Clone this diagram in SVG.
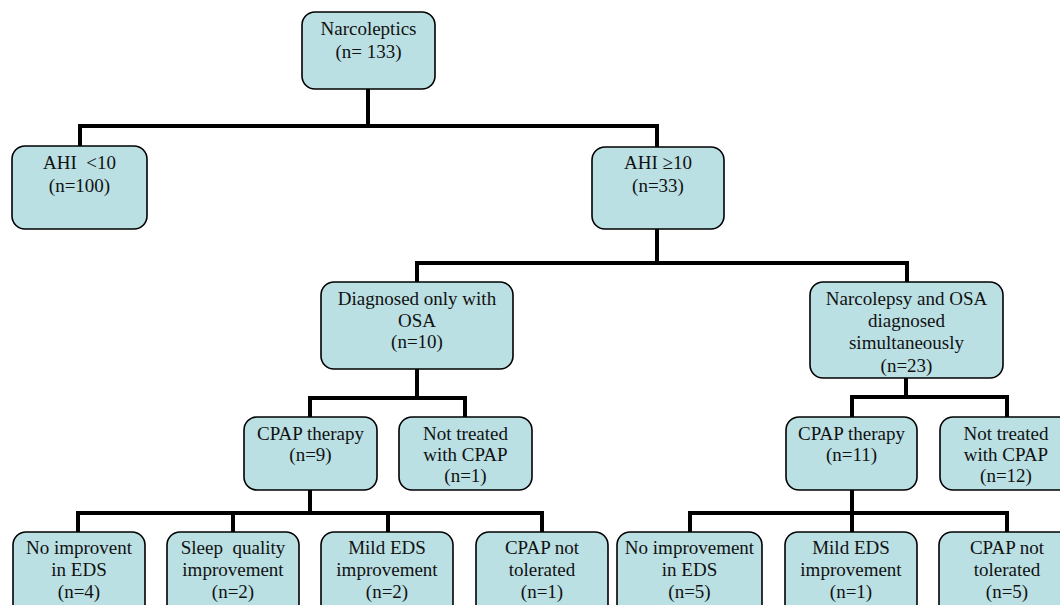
<svg xmlns="http://www.w3.org/2000/svg" width="1060" height="605" viewBox="0 0 1060 605">
<style>
.box{fill:#bae0e3;stroke:#000;stroke-width:1.6}
.c{fill:none;stroke:#000;stroke-width:4;stroke-linejoin:miter;stroke-linecap:square}
</style>
<rect width="1060" height="605" fill="#fff"/>
<g id="connectors">
<path class="c" d="M368 89V126M80 146V126H657V147"/>
<path class="c" d="M657 229V263M417 282V263H907V282"/>
<path class="c" d="M417 369V398M310 417V398H465V417"/>
<path class="c" d="M906 378V397M852 417V397H1007V417"/>
<path class="c" d="M310 490V513M78 532V513H542V532M233 513V532M388 513V532"/>
<path class="c" d="M852 490V513M690 532V513H1007V532M852 513V532"/>
</g>
<g font-family="'Liberation Serif', 'Times New Roman', 'DejaVu Serif', serif" font-size="19" fill="#111" text-anchor="middle">
<g id="n-narcoleptics"><rect class="box" x="302" y="12" width="133" height="77" rx="13"/>
<text x="368.5" y="35">Narcoleptics</text><text x="368.5" y="58">(n= 133)</text></g>
<g id="n-ahi-lt10"><rect class="box" x="12" y="146" width="135" height="83" rx="13"/>
<text x="79.5" y="169" xml:space="preserve">AHI  &lt;10</text><text x="79.5" y="192">(n=100)</text></g>
<g id="n-ahi-ge10"><rect class="box" x="592" y="147" width="132" height="82" rx="13"/>
<text x="658" y="169">AHI ≥10</text><text x="658" y="192">(n=33)</text></g>
<g id="n-osa-only"><rect class="box" x="321" y="282" width="192" height="87" rx="13"/>
<text x="417" y="305">Diagnosed only with</text><text x="417" y="327">OSA</text><text x="417" y="348">(n=10)</text></g>
<g id="n-simul"><rect class="box" x="810" y="282" width="193" height="96" rx="13"/>
<text x="906.5" y="305">Narcolepsy and OSA</text><text x="906.5" y="327">diagnosed</text><text x="906.5" y="349">simultaneously</text><text x="906.5" y="372">(n=23)</text></g>
<g id="n-cpap9"><rect class="box" x="244" y="417" width="133" height="73" rx="13"/>
<text x="310.5" y="440">CPAP therapy</text><text x="310.5" y="461">(n=9)</text></g>
<g id="n-nocpap1"><rect class="box" x="399" y="417" width="133" height="73" rx="13"/>
<text x="465.5" y="440">Not treated</text><text x="465.5" y="461">with CPAP</text><text x="465.5" y="482">(n=1)</text></g>
<g id="n-cpap11"><rect class="box" x="786" y="417" width="131" height="73" rx="13"/>
<text x="851.5" y="440">CPAP therapy</text><text x="851.5" y="461">(n=11)</text></g>
<g id="n-nocpap12"><rect class="box" x="940" y="417" width="133" height="73" rx="13"/>
<text x="1006" y="440">Not treated</text><text x="1006" y="461">with CPAP</text><text x="1006" y="482">(n=12)</text></g>
<g id="n-b1"><rect class="box" x="13" y="532" width="132" height="90" rx="13"/>
<text x="79" y="554">No improvent</text><text x="79" y="576">in EDS</text><text x="79" y="598">(n=4)</text></g>
<g id="n-b2"><rect class="box" x="167" y="532" width="132" height="90" rx="13"/>
<text x="233" y="554" xml:space="preserve">Sleep  quality</text><text x="233" y="576">improvement</text><text x="233" y="598">(n=2)</text></g>
<g id="n-b3"><rect class="box" x="321" y="532" width="132" height="90" rx="13"/>
<text x="387" y="554">Mild EDS</text><text x="387" y="576">improvement</text><text x="387" y="598">(n=2)</text></g>
<g id="n-b4"><rect class="box" x="476" y="532" width="132" height="90" rx="13"/>
<text x="542" y="554">CPAP not</text><text x="542" y="576">tolerated</text><text x="542" y="598">(n=1)</text></g>
<g id="n-b5"><rect class="box" x="617" y="532" width="145" height="90" rx="13"/>
<text x="689.5" y="554">No improvement</text><text x="689.5" y="576">in EDS</text><text x="689.5" y="598">(n=5)</text></g>
<g id="n-b6"><rect class="box" x="785" y="532" width="132" height="90" rx="13"/>
<text x="851" y="554">Mild EDS</text><text x="851" y="576">improvement</text><text x="851" y="598">(n=1)</text></g>
<g id="n-b7"><rect class="box" x="939" y="532" width="136" height="90" rx="13"/>
<text x="1007" y="554">CPAP not</text><text x="1007" y="576">tolerated</text><text x="1007" y="598">(n=5)</text></g>
</g>
</svg>
